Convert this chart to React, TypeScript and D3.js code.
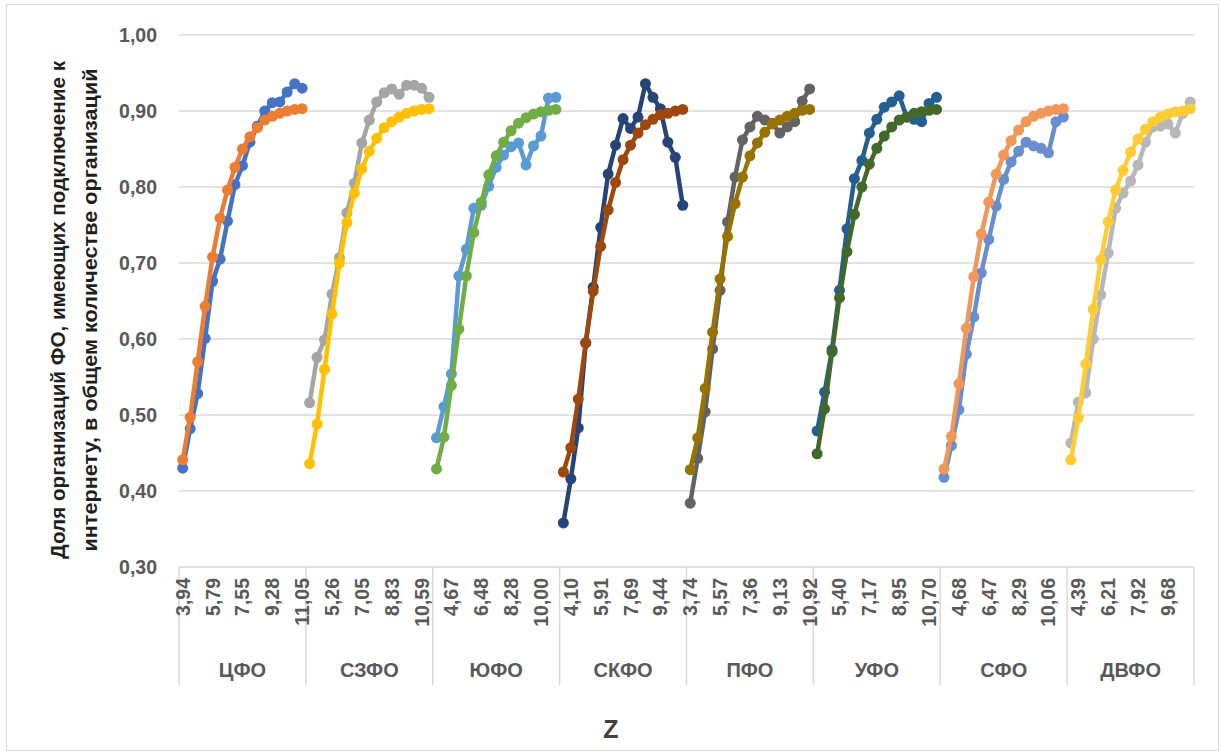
import React, { useEffect, useRef } from 'react';
import * as d3 from 'd3';

// federal districts (outer category level)
const districts = ['ЦФО', 'СЗФО', 'ЮФО', 'СКФО', 'ПФО', 'УФО', 'СФО', 'ДВФО'];

// Z values per district (inner category level), 17 each
const zValues: number[][] = [
  [3.94, 4.40, 4.87, 5.33, 5.79, 6.23, 6.67, 7.11, 7.55, 7.98, 8.41, 8.85, 9.28, 9.72, 10.17, 10.61, 11.05],
  [3.91, 4.36, 4.81, 5.26, 5.71, 6.15, 6.60, 7.05, 7.49, 7.94, 8.38, 8.83, 9.27, 9.71, 10.15, 10.59, 11.03],
  [3.77, 4.22, 4.67, 5.12, 5.57, 6.03, 6.48, 6.93, 7.38, 7.83, 8.28, 8.71, 9.14, 9.57, 10.00, 10.43, 10.86],
  [3.65, 4.10, 4.55, 5.01, 5.46, 5.91, 6.36, 6.80, 7.25, 7.69, 8.13, 8.57, 9.00, 9.44, 9.88, 10.32, 10.75],
  [3.74, 4.20, 4.66, 5.11, 5.57, 6.02, 6.47, 6.91, 7.36, 7.80, 8.24, 8.69, 9.13, 9.58, 10.03, 10.47, 10.92],
  [4.07, 4.51, 4.96, 5.40, 5.84, 6.29, 6.73, 7.17, 7.62, 8.06, 8.51, 8.95, 9.39, 9.83, 10.26, 10.70, 11.14],
  [3.78, 4.23, 4.68, 5.13, 5.57, 6.02, 6.47, 6.93, 7.38, 7.84, 8.29, 8.73, 9.17, 9.62, 10.06, 10.50, 10.95],
  [3.94, 4.39, 4.85, 5.30, 5.76, 6.21, 6.64, 7.06, 7.49, 7.92, 8.36, 8.80, 9.24, 9.68, 10.12, 10.56, 11.00],
];

// observed share of organisations with internet access
const actual: number[][] = [
  [0.430, 0.482, 0.528, 0.601, 0.676, 0.705, 0.755, 0.803, 0.828, 0.859, 0.880, 0.900, 0.911, 0.912, 0.925, 0.936, 0.930],
  [0.516, 0.576, 0.599, 0.659, 0.707, 0.766, 0.805, 0.858, 0.888, 0.912, 0.924, 0.929, 0.922, 0.934, 0.934, 0.930, 0.918],
  [0.470, 0.511, 0.554, 0.683, 0.718, 0.772, 0.776, 0.801, 0.826, 0.842, 0.853, 0.858, 0.829, 0.854, 0.867, 0.917, 0.918],
  [0.358, 0.416, 0.483, 0.595, 0.668, 0.747, 0.817, 0.855, 0.890, 0.877, 0.892, 0.936, 0.918, 0.903, 0.859, 0.839, 0.776],
  [0.384, 0.443, 0.504, 0.587, 0.664, 0.754, 0.813, 0.862, 0.879, 0.893, 0.888, 0.884, 0.871, 0.879, 0.886, 0.913, 0.929],
  [0.479, 0.530, 0.586, 0.664, 0.745, 0.811, 0.835, 0.871, 0.889, 0.905, 0.912, 0.920, 0.892, 0.889, 0.886, 0.910, 0.918],
  [0.418, 0.460, 0.507, 0.580, 0.629, 0.687, 0.731, 0.775, 0.810, 0.833, 0.847, 0.859, 0.854, 0.851, 0.845, 0.886, 0.892],
  [0.463, 0.517, 0.529, 0.600, 0.658, 0.713, 0.772, 0.792, 0.808, 0.829, 0.859, 0.879, 0.880, 0.883, 0.871, 0.897, 0.912],
];

// model (fitted) values
const fitted: number[][] = [
  [0.441, 0.497, 0.570, 0.643, 0.708, 0.759, 0.796, 0.826, 0.850, 0.866, 0.878, 0.888, 0.893, 0.897, 0.900, 0.902, 0.903],
  [0.436, 0.488, 0.560, 0.633, 0.700, 0.753, 0.792, 0.824, 0.847, 0.864, 0.878, 0.886, 0.892, 0.897, 0.900, 0.902, 0.903],
  [0.429, 0.471, 0.539, 0.613, 0.683, 0.740, 0.780, 0.816, 0.841, 0.859, 0.874, 0.884, 0.891, 0.896, 0.899, 0.901, 0.902],
  [0.425, 0.457, 0.521, 0.595, 0.663, 0.722, 0.770, 0.806, 0.836, 0.855, 0.871, 0.882, 0.889, 0.895, 0.897, 0.900, 0.902],
  [0.428, 0.470, 0.535, 0.609, 0.679, 0.735, 0.778, 0.813, 0.841, 0.858, 0.872, 0.883, 0.888, 0.893, 0.897, 0.901, 0.902],
  [0.449, 0.508, 0.583, 0.654, 0.715, 0.764, 0.800, 0.830, 0.851, 0.867, 0.879, 0.888, 0.892, 0.897, 0.899, 0.901, 0.902],
  [0.429, 0.472, 0.541, 0.614, 0.682, 0.738, 0.780, 0.817, 0.842, 0.861, 0.875, 0.886, 0.893, 0.897, 0.900, 0.902, 0.903],
  [0.441, 0.496, 0.567, 0.639, 0.704, 0.754, 0.796, 0.822, 0.846, 0.863, 0.876, 0.886, 0.892, 0.896, 0.899, 0.900, 0.903],
];

const actualColors = ['#4472C4', '#A5A5A5', '#5B9BD5', '#264478', '#636363', '#255E91', '#698ED0', '#B7B7B7'];
const fittedColors = ['#ED7D31', '#FFC000', '#70AD47', '#9E480E', '#997300', '#43682B', '#F1975A', '#FFCD33'];

const yTicks = [0.3, 0.4, 0.5, 0.6, 0.7, 0.8, 0.9, 1.0];

const App = () => {
  const svgRef = useRef<SVGSVGElement>(null);

  useEffect(() => {
    const width = 1221;
    const height = 753;
    const left = 179;
    const right = 1194;
    const top = 35;
    const bottom = 567;
    const axisBottom = 685;

    const svg = d3.select(svgRef.current);
    svg.selectAll('*').remove();
    svg.attr('width', width).attr('height', height);

    // chart area border
    svg.append('rect')
      .attr('x', 6.5).attr('y', 4.5)
      .attr('width', 1212).attr('height', 746)
      .attr('fill', '#fff').attr('stroke', '#D9D9D9').attr('stroke-width', 1);

    // flat list of category keys "district|index"
    const keys: string[] = [];
    districts.forEach((d, g) => zValues[g].forEach((_, i) => keys.push(`${g}|${i}`)));

    const x = d3.scaleBand<string>().domain(keys).range([left, right]).padding(0);
    const y = d3.scaleLinear().domain([0.3, 1.0]).range([bottom, top]);
    const cx = (g: number, i: number) => (x(`${g}|${i}`) as number) + x.bandwidth() / 2;
    const fmt = (v: number) => v.toFixed(2).replace('.', ',');

    // gridlines
    svg.append('g')
      .selectAll('line')
      .data(yTicks)
      .join('line')
      .attr('x1', left).attr('x2', right)
      .attr('y1', (d) => y(d)).attr('y2', (d) => y(d))
      .attr('stroke', '#D9D9D9').attr('stroke-width', 1.5);

    // y tick labels
    svg.append('g')
      .selectAll('text')
      .data(yTicks)
      .join('text')
      .attr('x', 157)
      .attr('y', (d) => y(d))
      .attr('text-anchor', 'end')
      .attr('dominant-baseline', 'central')
      .attr('font-family', 'Liberation Sans, Arial, sans-serif')
      .attr('font-weight', 'bold')
      .attr('font-size', 19.5)
      .attr('fill', '#595959')
      .text((d) => fmt(d));

    // category axis: group separators
    const groupW = x.bandwidth() * 17;
    const seps = d3.range(districts.length + 1).map((g) => left + g * groupW);
    svg.append('g')
      .selectAll('line')
      .data(seps)
      .join('line')
      .attr('x1', (d) => d).attr('x2', (d) => d)
      .attr('y1', bottom).attr('y2', axisBottom)
      .attr('stroke', '#D9D9D9').attr('stroke-width', 1.5);

    // inner tick labels (every 4th category)
    const tickData = keys
      .map((k, idx) => ({ k, idx }))
      .filter((d) => d.idx % 4 === 0)
      .map(({ k }) => {
        const [g, i] = k.split('|').map(Number);
        return { g, i, z: zValues[g][i] };
      });
    svg.append('g')
      .selectAll('text')
      .data(tickData)
      .join('text')
      .attr('transform', (d) => `translate(${cx(d.g, d.i)},578) rotate(-90)`)
      .attr('text-anchor', 'end')
      .attr('dominant-baseline', 'central')
      .attr('font-family', 'Liberation Sans, Arial, sans-serif')
      .attr('font-weight', 'bold')
      .attr('font-size', 19.5)
      .attr('fill', '#595959')
      .text((d) => fmt(d.z));

    // district labels
    svg.append('g')
      .selectAll('text')
      .data(districts)
      .join('text')
      .attr('x', (_, g) => left + (g + 0.5) * groupW)
      .attr('y', 670)
      .attr('text-anchor', 'middle')
      .attr('dominant-baseline', 'central')
      .attr('font-family', 'Liberation Sans, Arial, sans-serif')
      .attr('font-weight', 'bold')
      .attr('font-size', 20)
      .attr('fill', '#595959')
      .text((d) => d);

    // series: observed first, model on top
    const line = d3.line<[number, number]>().x((d) => d[0]).y((d) => d[1]);
    districts.forEach((_, g) => {
      [
        { vals: actual[g], color: actualColors[g] },
        { vals: fitted[g], color: fittedColors[g] },
      ].forEach(({ vals, color }) => {
        const pts = vals.map((v, i) => [cx(g, i), y(v)] as [number, number]);
        const grp = svg.append('g');
        grp.append('path')
          .datum(pts)
          .attr('fill', 'none')
          .attr('stroke', color)
          .attr('stroke-width', 4.5)
          .attr('stroke-linejoin', 'round')
          .attr('d', line);
        grp.selectAll('circle')
          .data(pts)
          .join('circle')
          .attr('cx', (d) => d[0])
          .attr('cy', (d) => d[1])
          .attr('r', 5.5)
          .attr('fill', color);
      });
    });

    // axis titles
    const yTitle = svg.append('text')
      .attr('transform', 'translate(0,310) rotate(-90)')
      .attr('text-anchor', 'middle')
      .attr('font-family', 'Liberation Sans, Arial, sans-serif')
      .attr('font-weight', 'bold')
      .attr('font-size', 20.5)
      .attr('fill', '#1f1f1f');
    yTitle.append('tspan')
      .attr('x', 0).attr('y', 65)
      .attr('textLength', 498).attr('lengthAdjust', 'spacingAndGlyphs')
      .text('Доля организаций ФО, имеющих подключение к');
    yTitle.append('tspan')
      .attr('x', 0).attr('y', 97)
      .attr('textLength', 483).attr('lengthAdjust', 'spacingAndGlyphs')
      .text('интернету, в общем количестве организаций');

    svg.append('text')
      .attr('x', 611).attr('y', 738)
      .attr('text-anchor', 'middle')
      .attr('font-family', 'Liberation Sans, Arial, sans-serif')
      .attr('font-weight', 'bold')
      .attr('font-size', 25)
      .attr('fill', '#404040')
      .text('Z');
  }, []);

  return (
    <div style={{ position: 'absolute', left: 0, top: 0 }}>
      <svg ref={svgRef} style={{ display: 'block' }} />
    </div>
  );
};

export default App;
